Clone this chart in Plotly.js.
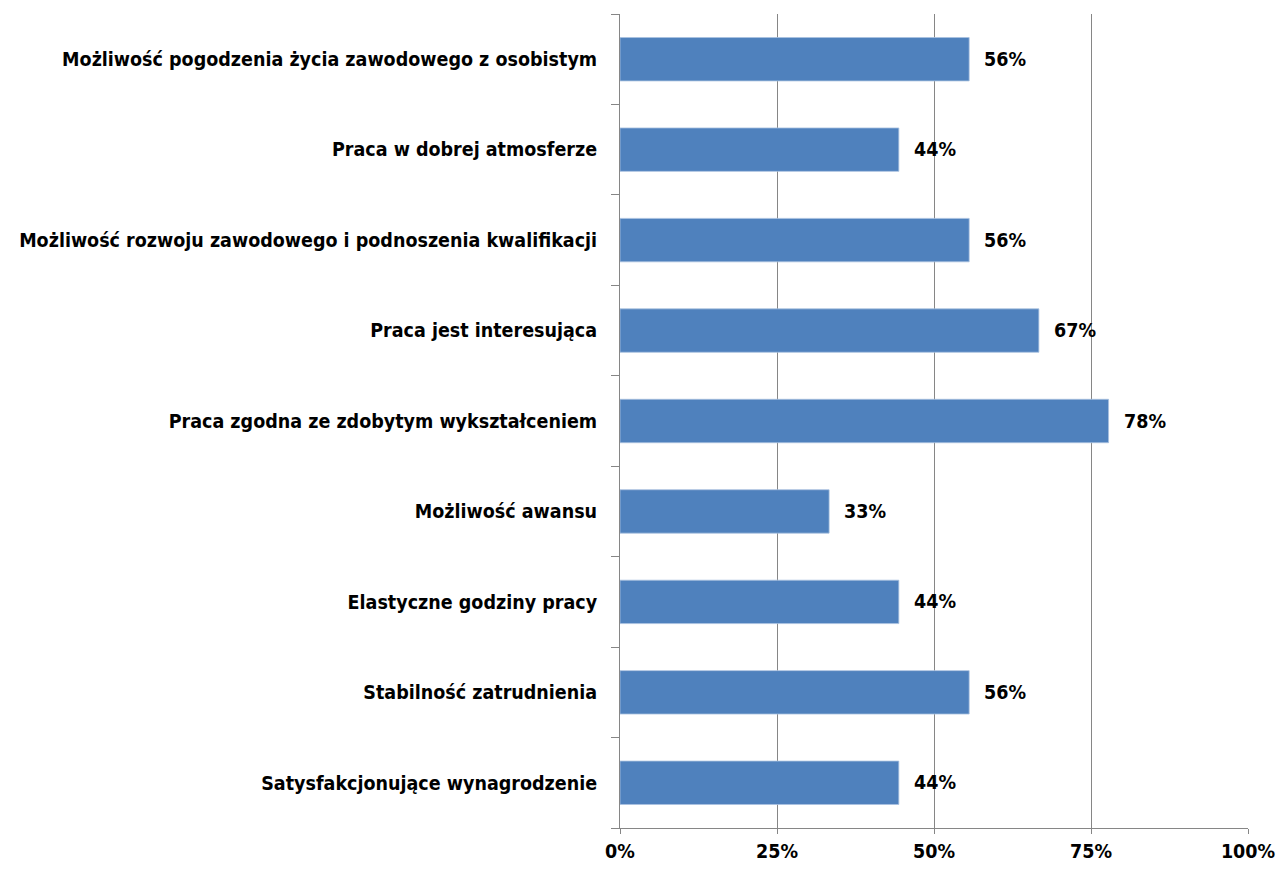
<!DOCTYPE html>
<html><head><meta charset="utf-8">
<script src="https://cdn.plot.ly/plotly-3.0.1.min.js"></script>
<style>html,body{margin:0;padding:0;background:#fff}#chart{width:1279px;height:869px}</style>
</head><body><div id="chart"></div>
<script>
const categories = [
  "Możliwość pogodzenia życia zawodowego z osobistym",
  "Praca w dobrej atmosferze",
  "Możliwość rozwoju zawodowego i podnoszenia kwalifikacji",
  "Praca jest interesująca",
  "Praca zgodna ze zdobytym wykształceniem",
  "Możliwość awansu",
  "Elastyczne godziny pracy",
  "Stabilność zatrudnienia",
  "Satysfakcjonujące wynagrodzenie"
];
const values = [55.6, 44.4, 55.6, 66.7, 77.8, 33.3, 44.4, 55.6, 44.4];
const valueLabels = ["56%", "44%", "56%", "67%", "78%", "33%", "44%", "56%", "44%"];
const tickVals = [0, 25, 50, 75, 100];
const tickText = ["0%", "25%", "50%", "75%", "100%"];

const FONT = "'DejaVu Sans Condensed', 'Liberation Sans Narrow', sans-serif";
const FS = 19.5;

const trace = {
  type: 'bar', orientation: 'h',
  y: categories, x: values,
  marker: {color: '#4F81BD', line: {color: '#A9C1E0', width: 0.8}},
  hoverinfo: 'none'
};

const annotations = values.map((v, i) => ({
  x: v, y: categories[i], xref: 'x', yref: 'y',
  text: '<b>' + valueLabels[i] + '</b>', showarrow: false,
  xanchor: 'left', yanchor: 'middle', xshift: 13, yshift: 0,
  font: {family: FONT, size: FS, color: '#000'}
}));

const layout = {
  width: 1279, height: 869,
  margin: {l: 620, r: 31, t: 14, b: 41},
  paper_bgcolor: '#fff', plot_bgcolor: '#fff',
  showlegend: false,
  bargap: 0.52,
  font: {family: FONT, size: FS, color: '#000'},
  xaxis: {
    range: [0, 100], tickvals: tickVals, ticktext: tickText.map(t => '<b>' + t + '</b>'),
    showgrid: true, gridcolor: '#868686', gridwidth: 1,
    zeroline: false, showline: true, linecolor: '#868686', linewidth: 1,
    ticks: 'outside', ticklen: 5, tickcolor: '#868686', ticklabelstandoff: 1,
    tickfont: {family: FONT, size: FS, color: '#000'}, fixedrange: true
  },
  yaxis: {
    type: 'category', autorange: 'reversed',
    tickvals: categories, ticktext: categories.map(c => '<b>' + c + '</b>'),
    showline: true, linecolor: '#868686', linewidth: 1,
    ticks: 'outside', ticklen: 8, tickcolor: '#868686', tickson: 'boundaries',
    ticklabelstandoff: 18, showgrid: false, zeroline: false,
    tickfont: {family: FONT, size: FS, color: '#000'}, fixedrange: true
  },
  annotations: annotations
};

Plotly.newPlot('chart', [trace], layout, {displayModeBar: false, staticPlot: true});
</script>
</body></html>
